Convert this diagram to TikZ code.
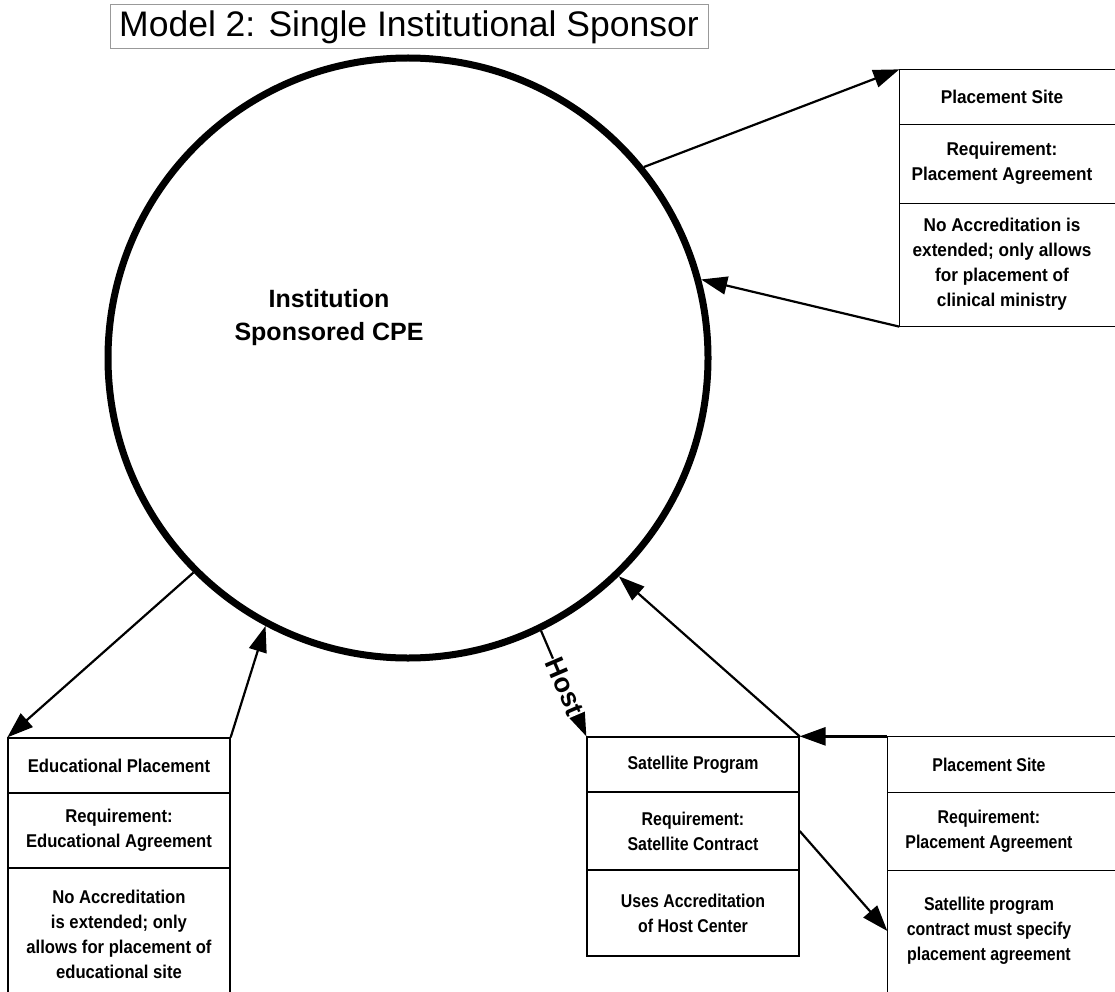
\documentclass[tikz,border=0pt]{standalone}
\usepackage{fontspec}
\setmainfont{Liberation Sans}
\newfontfamily\fTR{Liberation Sans}[FakeStretch=0.93]
\newfontfamily\fED{Liberation Sans}[FakeStretch=0.90]
\newfontfamily\fSA{Liberation Sans}[FakeStretch=0.86]
\newfontfamily\fBR{Liberation Sans}[FakeStretch=0.86]
\usetikzlibrary{arrows.meta}
\begin{document}
\begin{tikzpicture}[x=1pt,y=-1pt,
  sect/.style={rectangle, draw, line width=1.3pt, align=center, inner sep=0pt,
    font={#1\bfseries\fontsize{18.5}{25}\selectfont}},
  opensect/.style={sect=#1, draw=none},
  boxline/.style={line width=1.3pt},
  arr/.style={line width=2.2pt, -{Triangle[length=26pt,width=18pt]}}]
\useasboundingbox (0,0) rectangle (1115,992);
\fill[white] (0,0) rectangle (1115,992);

% title
\node[draw=gray!80, line width=1pt, minimum width=598pt, minimum height=44pt, inner sep=0pt,
  font=\fontsize{35.5}{35.5}\selectfont] (title) at (409,27) {Model 2: Single Institutional Sponsor};

% circle
\node[circle, draw, line width=7pt, minimum size=600pt, inner sep=0pt] (cpe) at (408,358) {};
\node[align=center, font=\bfseries\fontsize{25}{33}\selectfont] (cpetext) at (329,318) {Institution\\Sponsored CPE};

% top-right placement site
\node[opensect=\fTR, minimum width=204pt, minimum height=54pt] (t1) at (1002,97) {Placement Site};
\node[opensect=\fTR, minimum width=204pt, minimum height=79pt] (t2) at (1002,163.5) {Requirement:\\Placement Agreement};
\node[opensect=\fTR, minimum width=204pt, minimum height=123pt] (t3) at (1002,264.5) {No Accreditation is\\extended; only allows\\for placement of\\clinical ministry};
\draw[boxline] ([xshift=250pt]t1.north west) -- (t1.north west) -- (t3.south west) -- ([xshift=250pt]t3.south west);
\draw[boxline] (t1.south west) -- ([xshift=250pt]t1.south west);
\draw[boxline] (t2.south west) -- ([xshift=250pt]t2.south west);

% educational placement
\node[sect=\fED, minimum width=222pt, minimum height=55pt] (e1) at (119,765.5) {Educational Placement};
\node[sect=\fED, minimum width=222pt, minimum height=75pt] (e2) at (119,830.5) {Requirement:\\Educational Agreement};
\node[sect=\fED, minimum width=222pt, minimum height=132pt] (e3) at (119,934) {No Accreditation\\is extended; only\\allows for placement of\\educational site};

% satellite program
\node[sect=\fSA, minimum width=212pt, minimum height=55pt] (s1) at (693,764.5) {Satellite Program};
\node[sect=\fSA, minimum width=212pt, minimum height=78pt] (s2) at (693,831) {Requirement:\\Satellite Contract};
\node[sect=\fSA, minimum width=212pt, minimum height=86pt] (s3) at (693,913) {Uses Accreditation\\of Host Center};

% bottom-right placement site
\node[opensect=\fBR, minimum width=202pt, minimum height=55pt] (b1) at (989,764.5) {Placement Site};
\node[opensect=\fBR, minimum width=202pt, minimum height=78pt] (b2) at (989,831) {Requirement:\\Placement Agreement};
\node[opensect=\fBR, minimum width=202pt, minimum height=122pt] (b3) at (989,931) {Satellite program\\contract must specify\\placement agreement};
\draw[boxline] ([xshift=250pt]b1.north west) -- (b1.north west) -- ([yshift=-40pt]b3.south west);
\draw[boxline] (b1.south west) -- ([xshift=250pt]b1.south west);
\draw[boxline] (b2.south west) -- ([xshift=250pt]b2.south west);

% connectors
\draw[arr] (cpe.39) -- (t1.north west);
\draw[arr] (t3.south west) -- (cpe.15);
\draw[arr] (cpe.225) -- (e1.north west);
\draw[arr] (e1.north east) -- (cpe.242);
\draw[arr] (s1.north east) -- (cpe.314);
\draw[arr, line width=2.8pt] (b1.north west) -- (s1.north east);
\draw[arr] (s2.east) -- (b3.west);
\draw[arr] (cpe.296) -- node[sloped, pos=0.53, fill=white, inner xsep=0.5pt, inner ysep=1pt,
  font=\bfseries\fontsize{27}{27}\selectfont] (host) {Host} (s1.north west);
\end{tikzpicture}
\end{document}
